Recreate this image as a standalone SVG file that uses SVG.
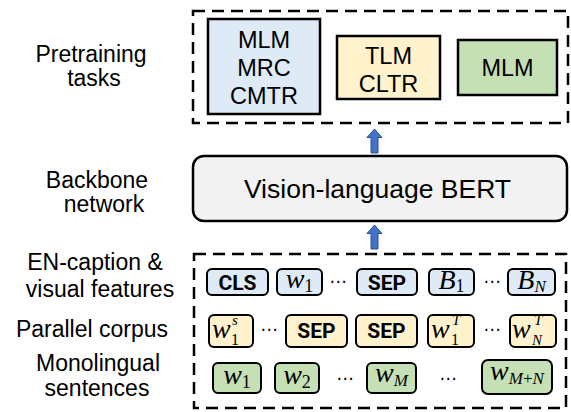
<svg xmlns="http://www.w3.org/2000/svg" width="571" height="412" viewBox="0 0 571 412">
<style>
.lbl{font-family:"Liberation Sans",Arial,sans-serif;font-size:23px;fill:#000;text-anchor:middle}
.task{font-family:"Liberation Sans",Arial,sans-serif;font-size:23.5px;fill:#000;text-anchor:middle}
.dash{fill:none;stroke:#000;stroke-width:2.5;stroke-dasharray:12 7}
.tbox{stroke:#000;stroke-width:2.5}
.tok{stroke:#000;stroke-width:2}
.blue{fill:#DEEBF7}.yel{fill:#FFF2CC}.grn{fill:#C5E0B4}
.kw{font-family:Roboto,"Liberation Sans",sans-serif;font-weight:bold;font-size:21px;fill:#000;text-anchor:middle}
.m{font-family:"Liberation Serif","Times New Roman",serif;font-size:28px;fill:#000}
.mi{font-style:italic}
.dots{font-family:"DejaVu Sans",sans-serif;font-size:17px;fill:#000;text-anchor:middle}
.arrow{fill:#4472C4;stroke:#2F528F;stroke-width:1}
</style>

<g id="side-labels">
<text class="lbl" x="91" y="62">Pretraining</text>
<text class="lbl" x="94" y="86">tasks</text>
<text class="lbl" x="97" y="188">Backbone</text>
<text class="lbl" x="104" y="212">network</text>
<text class="lbl" x="95" y="270">EN-caption &amp;</text>
<text class="lbl" x="100" y="297">visual features</text>
<text class="lbl" x="92" y="337">Parallel corpus</text>
<text class="lbl" x="98" y="371">Monolingual</text>
<text class="lbl" x="97" y="396">sentences</text>
</g>

<g id="pretraining-tasks">
<rect class="dash" x="193" y="11" width="375" height="112"/>
<g id="task-blue">
<rect class="tbox blue" x="208" y="19" width="112" height="95"/>
<text class="task" x="264" y="48">MLM</text>
<text class="task" x="264" y="76">MRC</text>
<text class="task" x="264" y="104">CMTR</text>
</g>
<g id="task-yellow">
<rect class="tbox yel" x="337" y="36" width="103" height="63"/>
<text class="task" x="388.5" y="64">TLM</text>
<text class="task" x="388.5" y="92">CLTR</text>
</g>
<g id="task-green">
<rect class="tbox grn" x="458" y="40" width="99" height="55"/>
<text class="task" x="507.5" y="76">MLM</text>
</g>
</g>

<g id="backbone">
<rect x="193" y="156" width="374" height="65" rx="11" fill="#F2F2F2" stroke="#000" stroke-width="2.5"/>
<text x="377.5" y="198" font-family="'Liberation Sans',Arial,sans-serif" font-size="26.5" text-anchor="middle" fill="#000">Vision-language BERT</text>
</g>

<g id="connectors">
<path class="arrow" d="M374.5 129 L382 137.5 L378 137.5 L378 153 L371 153 L371 137.5 L367 137.5 Z"/>
<path class="arrow" d="M374.5 225 L382 233.5 L378 233.5 L378 249 L371 249 L371 233.5 L367 233.5 Z"/>
</g>

<g id="inputs">
<rect class="dash" x="194" y="254" width="372" height="154"/>

<g id="row-en-caption">
<rect class="tok blue" x="207" y="269" width="61" height="26" rx="5"/>
<text class="kw" x="237.5" y="290">CLS</text>
<rect class="tok blue" x="277" y="269" width="45" height="26" rx="5"/>
<text class="m" x="299.5" y="288" text-anchor="middle"><tspan class="mi">w</tspan><tspan font-size="18" dy="4">1</tspan></text>
<text class="dots" x="338" y="287">⋯</text>
<rect class="tok blue" x="357" y="269" width="60" height="26" rx="5"/>
<text class="kw" x="387" y="290">SEP</text>
<rect class="tok blue" x="429" y="269" width="45" height="26" rx="5"/>
<text class="m" x="451.5" y="289" text-anchor="middle"><tspan class="mi">B</tspan><tspan font-size="18" dy="3">1</tspan></text>
<text class="dots" x="492" y="287">⋯</text>
<rect class="tok blue" x="508" y="269" width="47" height="26" rx="5"/>
<text class="m" x="531.5" y="289" text-anchor="middle"><tspan class="mi">B</tspan><tspan class="mi" font-size="17" dy="3">N</tspan></text>
</g>

<g id="row-parallel">
<rect class="tok yel" x="209" y="315" width="44" height="32" rx="5"/>
<text class="m"><tspan class="mi" x="212" y="338">w</tspan><tspan class="mi" font-size="15" x="232" y="325">s</tspan><tspan font-size="16" x="231" y="345">1</tspan></text>
<text class="dots" x="269" y="335">⋯</text>
<rect class="tok yel" x="286" y="315" width="61" height="32" rx="5"/>
<text class="kw" x="316.5" y="338">SEP</text>
<rect class="tok yel" x="356" y="315" width="61" height="32" rx="5"/>
<text class="kw" x="386.5" y="338">SEP</text>
<rect class="tok yel" x="428" y="315" width="46" height="32" rx="5"/>
<text class="m"><tspan class="mi" x="431" y="338">w</tspan><tspan class="mi" font-size="15" x="452" y="325">T</tspan><tspan font-size="16" x="451" y="345">1</tspan></text>
<text class="dots" x="492" y="335">⋯</text>
<rect class="tok yel" x="510" y="315" width="46" height="32" rx="5"/>
<text class="m"><tspan class="mi" x="512" y="338">w</tspan><tspan class="mi" font-size="15" x="534" y="325">T</tspan><tspan class="mi" font-size="15" x="532" y="345">N</tspan></text>
</g>

<g id="row-monolingual">
<rect class="tok grn" x="213" y="363" width="48" height="30" rx="5"/>
<text class="m" x="237" y="384" text-anchor="middle"><tspan class="mi">w</tspan><tspan font-size="18" dy="4">1</tspan></text>
<rect class="tok grn" x="275" y="363" width="44" height="30" rx="5"/>
<text class="m" x="297" y="384" text-anchor="middle"><tspan class="mi">w</tspan><tspan font-size="18" dy="4">2</tspan></text>
<text class="dots" x="345" y="384">⋯</text>
<rect class="tok grn" x="367" y="363" width="49" height="30" rx="5"/>
<text class="m" x="391.5" y="382" text-anchor="middle"><tspan class="mi">w</tspan><tspan class="mi" font-size="17" dy="4">M</tspan></text>
<text class="dots" x="448" y="384">⋯</text>
<rect class="tok grn" x="482" y="360" width="70" height="34" rx="6"/>
<text class="m" x="517" y="380" text-anchor="middle"><tspan class="mi">w</tspan><tspan class="mi" font-size="17" dy="4">M</tspan><tspan font-size="17">+</tspan><tspan class="mi" font-size="17">N</tspan></text>
</g>
</g>
</svg>
